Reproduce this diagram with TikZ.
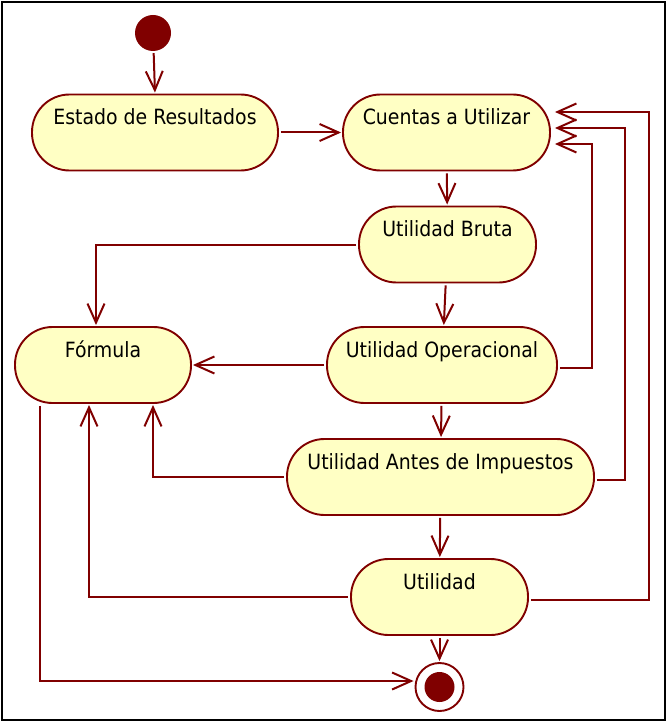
\documentclass[tikz,border=0pt]{standalone}
\usepackage{fontspec}
\setmainfont{DejaVu Sans Condensed}
\usepackage{xcolor}
\definecolor{umlred}{RGB}{128, 0, 0}
\definecolor{umlfill}{RGB}{255, 255, 196}
\usepackage{tikz}
\usetikzlibrary{
    arrows.meta,
    positioning,
    calc
}

\begin{document}
\begin{tikzpicture}[
    x=1pt, y=-1pt,
    >={Straight Barb[length=19pt, width=17pt]},
    every text node part/.style={align=center},
    activity/.style={rectangle, rounded corners=37.5pt, draw=umlred, line width=1.9pt, fill=umlfill,
        inner xsep=0pt, inner ysep=0pt, text height=30pt, text depth=46pt,
        font=\fontsize{21}{25}\selectfont},
    startnode/.style={circle, fill=umlred, inner sep=0pt, minimum size=36pt},
    endnode/.style={circle, draw=umlred, line width=1.9pt, fill=white, inner sep=0pt, minimum size=48pt},
    flow/.style={draw=umlred, line width=2pt, ->, shorten <=2pt, shorten >=1pt}
]
\useasboundingbox (0,0) rectangle (667,722);
\draw[black, line width=2pt] (2,2) rectangle (665,720);

% ==================== START ====================
\node[startnode] (start) at (153,33) {};

% ==================== TOP ROW ====================
\node[activity, minimum width=246pt] (estado) at (155,132.5) {Estado de Resultados};
\node[activity, minimum width=207pt] (cuentas) at (446.5,132.5) {Cuentas a Utilizar};
\draw[flow] (start) -- (estado.north);
\draw[flow] (estado) -- (cuentas);

% ==================== UTILIDADES ====================
\node[activity, minimum width=177pt] (bruta) at (447.5,244.5) {Utilidad Bruta};
\node[activity, minimum width=230pt] (operacional) at (442,365) {Utilidad Operacional};
\node[activity, minimum width=307pt] (antes) at (440.5,477) {Utilidad Antes de Impuestos};
\node[activity, minimum width=177pt] (utilidad) at (439.5,597) {Utilidad};
\draw[flow] (cuentas) -- (bruta);
\draw[flow] (bruta) -- (operacional);
\draw[flow] (operacional) -- (antes);
\draw[flow] (antes) -- (utilidad);

% ==================== FORMULA ====================
\node[activity, minimum width=176pt] (formula) at (103,365) {Fórmula};
\draw[flow] (bruta.west) -| ([xshift=-7pt]formula.north);
\draw[flow] (operacional) -- (formula);
\draw[flow] (antes.west) -| ([xshift=50pt]formula.south);
\draw[flow] (utilidad.west) -| ([xshift=-14pt]formula.south);

% ==================== LOOPS BACK ====================
\draw[flow] ([yshift=-3pt]operacional.east) -| (592,144) -- ($(cuentas.east)+(3,11.5)$);
\draw[flow] ([yshift=-3pt]antes.east) -| (625,128) -- ($(cuentas.east)+(3,-4.5)$);
\draw[flow] ([yshift=-3pt]utilidad.east) -| (649,112) -- ($(cuentas.east)+(3,-20.5)$);

% ==================== END ====================
\node[endnode] (fin) at (439.5,687) {};
\node[startnode, minimum size=30pt] (findot) at (fin) {};
\draw[flow] (utilidad) -- (fin);
\draw[flow] ([xshift=-63pt]formula.south) |- ([yshift=6pt]fin.west);

\end{tikzpicture}
\end{document}
